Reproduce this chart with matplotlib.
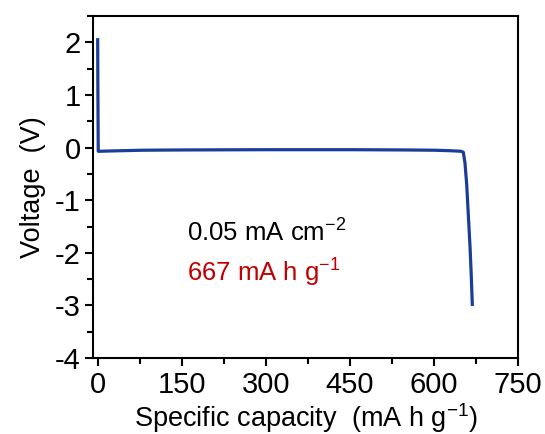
import matplotlib.pyplot as plt
from matplotlib.ticker import MultipleLocator

plt.rcParams['font.family'] = ['Liberation Sans', 'DejaVu Sans']
plt.rcParams['mathtext.fontset'] = 'custom'
plt.rcParams['mathtext.rm'] = 'Liberation Sans'
plt.rcParams['mathtext.default'] = 'regular'
plt.rcParams['axes.unicode_minus'] = False

# discharge curve
capacity = [0, 0.3, 1.0, 3, 20, 80, 150, 300, 450, 550, 600, 630, 648, 652, 655, 658, 661, 664, 666, 668]
voltage = [2.05, 1.2, -0.07, -0.07, -0.065, -0.05, -0.045, -0.04, -0.04, -0.045, -0.05, -0.06, -0.07, -0.09, -0.3, -0.7, -1.3, -1.9, -2.4, -2.98]

current_label = "0.05 mA cm$^{-2}$"
capacity_label = "667 mA h g$^{-1}$"

fig, ax = plt.subplots(figsize=(5.45, 4.34), dpi=100)
fig.subplots_adjust(left=0.171, right=0.951, top=0.963, bottom=0.175)

ax.plot(capacity, voltage, color='#1a3d9a', linewidth=2.3)

ax.set_xlim(-8, 750)
ax.set_ylim(-4, 2.5)
ax.xaxis.set_major_locator(MultipleLocator(150))
ax.xaxis.set_minor_locator(MultipleLocator(75))
ax.yaxis.set_major_locator(MultipleLocator(1))
ax.yaxis.set_minor_locator(MultipleLocator(0.5))
ax.tick_params(which='both', direction='out', width=1.5, labelsize=21)
ax.tick_params(which='major', length=6, pad=3)
ax.tick_params(which='minor', length=4)
for s in ax.spines.values():
    s.set_linewidth(1.5)

ax.set_xlabel("Specific capacity  (mA h g$^{-1}$)", fontsize=19.5, labelpad=2)
ax.set_ylabel("Voltage  (V)", fontsize=19.5, labelpad=6)

ax.text(0.221, 0.365, current_label, transform=ax.transAxes, fontsize=18.5,
        color='black', va='center')
ax.text(0.221, 0.25, capacity_label, transform=ax.transAxes, fontsize=18.5,
        color='#c00000', va='center')

fig.savefig("out.png", dpi=100)
